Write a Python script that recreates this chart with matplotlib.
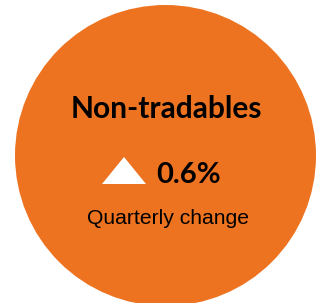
import matplotlib.pyplot as plt
from matplotlib.patches import Circle, Polygon

# values shown on the card
title = "Non-tradables"
change = 0.6
subtitle = "Quarterly change"

orange = "#ED7320"

fig = plt.figure(figsize=(3.17, 3.03), dpi=100)
ax = fig.add_axes([0, 0, 1, 1])
ax.set_xlim(0, 317)
ax.set_ylim(303, 0)
ax.axis("off")

# big orange disc
ax.add_patch(Circle((165.5, 155.5), 150.5, color=orange, lw=0))

# title
ax.text(166, 118, title, fontsize=21.5, fontweight="bold", family="Lato",
        ha="center", va="baseline", color="black")

# up arrow for positive change
tri = Polygon([(102, 184), (146, 184), (124, 157)], closed=True,
              facecolor="white", edgecolor="none")
if change > 0:
    ax.add_patch(tri)
else:
    tri.set_xy([(102, 157), (146, 157), (124, 184)])
    ax.add_patch(tri)

ax.text(156, 183, f"{change:.1f}%", fontsize=21, fontweight="bold", family="Lato",
        ha="left", va="baseline", color="black")

ax.text(168, 224, subtitle, fontsize=15.2, family="Liberation Sans",
        ha="center", va="baseline", color="black")

fig.savefig("out.png", dpi=100)
